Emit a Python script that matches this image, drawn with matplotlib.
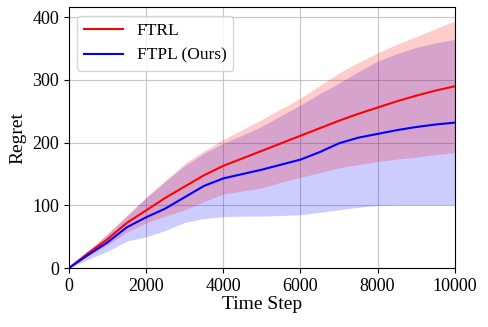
import numpy as np
import matplotlib
matplotlib.use("Agg")
import matplotlib.pyplot as plt

plt.rcParams['font.family'] = ['Liberation Serif', 'DejaVu Serif']
plt.rcParams['mathtext.fontset'] = 'stix'

steps = np.arange(0, 10001, 500)

# FTRL
ftrl_mean = [0, 24, 46, 72, 92, 112, 130, 148, 163, 175, 187,
             199, 211, 223, 235, 246, 256, 266, 275, 283, 290]
ftrl_upper = [0, 27, 55, 84, 113, 140, 167, 187, 205, 221, 237,
              254, 271, 291, 311, 328, 343, 357, 369, 382, 394]
ftrl_lower = [0, 20, 37, 57, 72, 83, 93, 106, 118, 123, 128,
              137, 145, 152, 160, 165, 170, 174, 177, 181, 184]

# FTPL (Ours)
ftpl_mean = [0, 21, 41, 65, 81, 95, 113, 131, 143, 150, 157,
             165, 173, 185, 199, 208, 214, 220, 225, 229, 232]
ftpl_upper = [0, 27, 54, 83, 112, 138, 163, 183, 199, 212, 226,
              243, 260, 278, 295, 313, 330, 342, 352, 359, 365]
ftpl_lower = [0, 14, 27, 43, 50, 60, 73, 79, 82, 83, 83,
              84, 85, 89, 93, 97, 100, 101, 101, 101, 101]

fig = plt.figure(figsize=(4.88, 3.27), dpi=100)
ax = fig.add_axes([0.141, 0.18, 0.791, 0.798])

ax.fill_between(steps, ftpl_lower, ftpl_upper, color='blue', alpha=0.2, linewidth=0)
ax.fill_between(steps, ftrl_lower, ftrl_upper, color='red', alpha=0.2, linewidth=0)
ax.plot(steps, ftrl_mean, color='red', linewidth=1.5, label='FTRL')
ax.plot(steps, ftpl_mean, color='blue', linewidth=1.5, label='FTPL (Ours)')

ax.set_xlim(0, 10000)
ax.set_ylim(0, 416)
ax.set_xticks([0, 2000, 4000, 6000, 8000, 10000])
ax.set_yticks([0, 100, 200, 300, 400])
ax.tick_params(labelsize=13)
ax.grid(True, color='#b0b0b0', linewidth=0.8, alpha=0.7)
ax.set_axisbelow(True)

ax.set_xlabel('Time Step', fontsize=14, labelpad=1)
ax.set_ylabel('Regret', fontsize=14, labelpad=4)
ax.legend(loc='upper left', fontsize=12.5, handlelength=2.2)

fig.savefig('out.png', dpi=100)
